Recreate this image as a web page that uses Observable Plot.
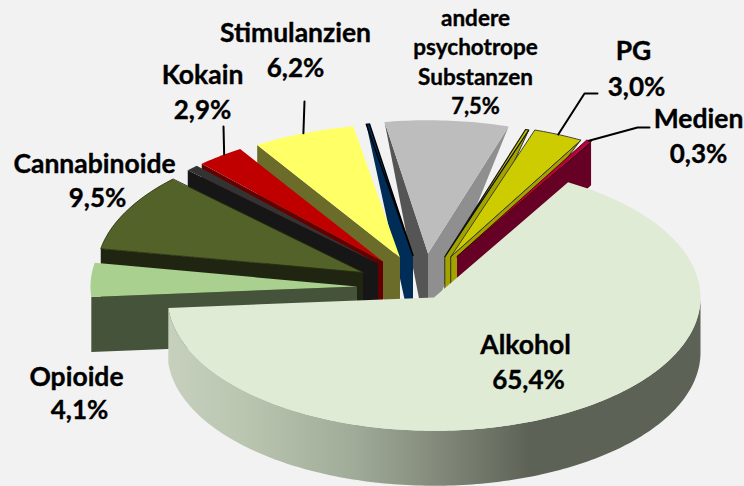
<!DOCTYPE html>
<html><head><meta charset="utf-8">
<script src="https://cdn.jsdelivr.net/npm/d3@7"></script>
<script src="https://cdn.jsdelivr.net/npm/@observablehq/plot@0.6"></script>
<style>html,body{margin:0;padding:0;background:#f2f2f2}svg{display:block}</style>
</head><body><div id="chart"></div>
<script>
// data, clockwise from the start of the Alkohol slice; three thin slices have no label
const names  = ["Alkohol","Opioide","Cannabinoide","","Kokain","Stimulanzien","","andere\npsychotrope\nSubstanzen","","PG","Medien"];
const values = [65.4,4.1,9.5,0.75,2.9,6.2,0.2,7.5,0.2,3.0,0.3];

// pie layout
const center = [433.5,297], R = 266.5, tilt = 0.5, depth = 55, startAngle = 30.2;
const explode = [[0,0],[-77,-11],[-71,-25],[-56,-34],[-51,-36],[-34,-40],[-21,-42],[-6,-44],[11,-41],[17,-41],[23,-41]];
const topColors   = ["#dfebd5","#a9d08e","#536228","#333333","#c00000","#ffff66","#002d5a","#bdbdbd","#c4c400","#cccc00","#b8003f"];
const startFaces  = [null,"#44533a","#1f2510","#161616","#640000","#6b6b2a","#002d57","#555555",null,null,null];
const endFaces    = [null,null,null,null,null,null,null,"#8f8f8f","#a3a300","#a3a300","#660025"];
const rimDepth    = [1,1,1,1,1,1,0,0,0,0,0.8];
const startLean   = [0,0,0,0,0,0,-6,-7,0,0,0];
const endLean     = [0,0,0,0,0,0,0,7,0,0,0];
const strokes     = ["none","none","#2a3010","none","none","none","#000","none","#111","#333","#400"];
const strokeWidths= [0,0,0.9,0,0,0,1.4,0,1.2,0.9,0.9];
const faceStrokes = ["none","none","none","none","none","none","none","none","#222","#222","none"];
const drawOrder   = [7,6,5,4,3,2,1,8,9,10,0];

// label layout: x, first line y, line spacing, name size, value size, value x shift
const labelLayout = {
  "Alkohol":[525,345,35,26.5,26,3],"Opioide":[76,377,33,26.5,26,3],"Cannabinoide":[94,164,34,26.5,26,3],
  "Kokain":[202,75,35,26.5,26,0],"Stimulanzien":[295,33,35,26.5,26,0],"andere\npsychotrope\nSubstanzen":[475,18,29.5,22.5,22,0],
  "PG":[633,51,36,26.5,26,3],"Medien":[698,119,35,26.5,26,0]
};
// leader lines: label-side points, ending on the slice's rim at a fraction of its arc
const leaders = {"Stimulanzien":[[[304,101]],0.5],"Kokain":[[[223,126]],0.6],"PG":[[[597,93],[584,93]],0.5],"Medien":[[[649,127],[637,127]],0.5]};

// angles from values
const total = d3.sum(values);
let acc = startAngle;
const slices = values.map((v,i)=>{const a0=acc;acc+=v/total*360;return {i,a0,a1:acc};});
const rad = d=>d*Math.PI/180;
const pt = (i,a,r=1,dz=0)=>({
  x:center[0]+explode[i][0]+R*r*Math.sin(rad(a)),
  y:center[1]+explode[i][1]-R*tilt*r*Math.cos(rad(a))+dz});
const arc = (i,a0,a1,dz=0)=>{const n=Math.max(2,Math.ceil(Math.abs(a1-a0)));
  return d3.range(n+1).map(k=>pt(i,a0+(a1-a0)*k/n,1,dz));};

const poly=(pts,fill,stroke="none",sw=1)=>Plot.line(pts,{x:"x",y:"y",fill,stroke,strokeWidth:sw,curve:"linear-closed",strokeLinejoin:"round"});

const defs=()=>{
  const svg=d3.create("svg:defs");
  const g=svg.append("linearGradient").attr("id","rim").attr("gradientUnits","userSpaceOnUse")
    .attr("x1",167).attr("x2",700).attr("y1",0).attr("y2",0);
  [[0,"#c6d0bd"],[0.15,"#bac5b0"],[0.35,"#a0ab98"],[0.5,"#858b7c"],[0.68,"#5c6255"],[1,"#5c6255"]]
    .forEach(([o,c])=>g.append("stop").attr("offset",o).attr("stop-color",c));
  return svg.node();
};

const face=(i,a,lean,fill)=>{
  const apex=pt(i,0,0), e=pt(i,a);
  const f=[apex,e,{x:e.x,y:e.y+depth*rimDepth[i]}];
  if(lean) f.push({x:apex.x+lean,y:apex.y+depth});
  f.push({x:apex.x,y:apex.y+depth});
  return poly(f,fill,faceStrokes[i],faceStrokes[i]==="none"?0:0.9);
};

const marks=[defs];
for(const i of drawOrder){
  const s=slices[i], a0=s.a0, a1=s.a1;
  const apex=pt(i,0,0);
  if(startFaces[i]) marks.push(face(i,a0,startLean[i],startFaces[i]));
  if(endFaces[i]) marks.push(face(i,a1,endLean[i],endFaces[i]));
  if(i===0){
    // outer rim of the front slice
    const from=Math.max(a0,90), to=Math.min(a1,270);
    marks.push(poly([...arc(i,from,to),...arc(i,to,from,depth)],"url(#rim)"));
  }
  marks.push(poly([apex,...arc(i,a0,a1)],topColors[i],strokes[i],strokeWidths[i]));
}

// leaders
names.forEach((n,i)=>{
  if(!leaders[n])return;
  const s=slices[i], [pts0,frac]=leaders[n];
  const end=pt(i,s.a0+(s.a1-s.a0)*frac);
  const pts=[...pts0.map(([x,y])=>({x,y})),end];
  marks.push(Plot.line(pts,{x:"x",y:"y",stroke:"#000",strokeWidth:2}));
});

// labels
const fmt=v=>v.toFixed(1).replace(".",",")+"%";
const rows=[];
names.forEach((n,i)=>{
  if(!n)return;
  const [x,y,gap,size,vsize,vdx]=labelLayout[n];
  const lines=n.split("\n");
  lines.forEach((t,k)=>rows.push({t,x,y:y+k*gap,size}));
  rows.push({t:fmt(values[i]),x:x+vdx,y:y+lines.length*gap,size:vsize});
});
for(const size of new Set(rows.map(d=>d.size))){
  marks.push(Plot.text(rows.filter(d=>d.size===size),{x:"x",y:"y",text:"t",fontSize:size,fontWeight:700,fill:"#000",
    stroke:"#000",strokeWidth:0.35,
    fontFamily:"Lato, 'Open Sans', sans-serif",textAnchor:"middle",lineAnchor:"middle"}));
}

const chart=Plot.plot({width:744,height:486,margin:0,
  x:{domain:[0,744],range:[0,744],axis:null},
  y:{domain:[0,486],range:[0,486],axis:null},
  style:{background:"#f2f2f2"},
  marks});
document.getElementById("chart").append(chart);
</script></body></html>
